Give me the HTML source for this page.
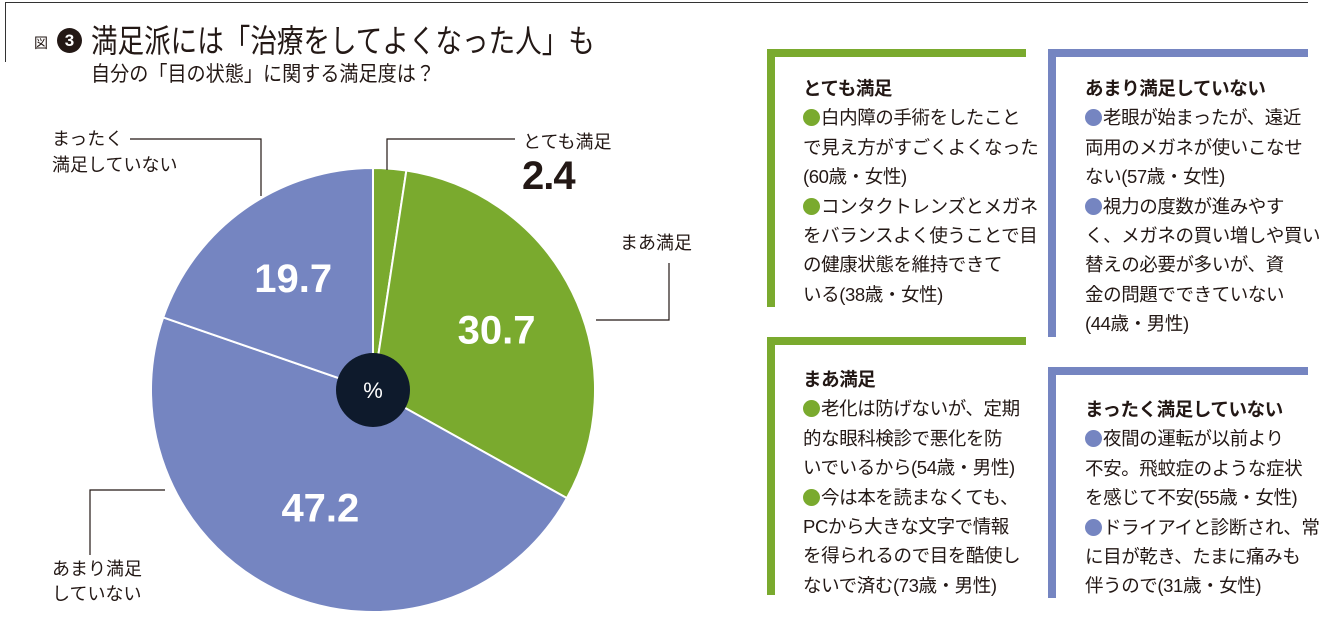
<!DOCTYPE html>
<html><head><meta charset="utf-8">
<style>
body{margin:0;width:1340px;height:628px;background:#fff;position:relative;overflow:hidden;font-family:"Liberation Sans","Noto Sans CJK JP",sans-serif;color:#231815}
.abs{position:absolute}
.box{position:absolute;font-size:18.5px;line-height:29.4px;color:#231815;white-space:nowrap;letter-spacing:-0.4px}
.box b{font-weight:bold}
.dg,.db{display:inline-block;width:17px;height:17px;border-radius:50%;vertical-align:-2px;margin-right:1px}
.dg{background:#7aaa2e}.db{background:#7585c1}
</style></head><body>
<div class="abs" style="left:5px;top:2px;width:1303px;height:1px;background:#333"></div>
<div class="abs" style="left:5px;top:2px;width:1px;height:60px;background:#333"></div>
<div class="abs" style="left:34px;top:33px;font-size:14px">図</div>
<div class="abs" style="left:57px;top:28px;width:25px;height:25px;border-radius:50%;background:#231815;color:#fff;font-weight:bold;font-size:17px;text-align:center;line-height:25px">3</div>
<div class="abs" style="left:91px;top:21px;font-size:32px;line-height:40px;transform:scaleX(0.83);transform-origin:left top;white-space:nowrap">満足派には「治療をしてよくなった人」も</div>
<div class="abs" style="left:91px;top:61px;font-size:21px;line-height:28px;transform:scaleX(0.91);transform-origin:left top;white-space:nowrap">自分の「目の状態」に関する満足度は？</div>

<svg class="abs" style="left:0;top:0" width="760" height="628">
<g id="slices"></g>
<circle cx="373" cy="390" r="37" fill="#0e1a2c"/>
<text x="373" y="398" fill="#fff" font-size="22" text-anchor="middle" font-family="Liberation Sans, sans-serif">%</text>
<g fill="none" stroke="#231815" stroke-width="1.2">
<polyline points="130,139 261,139 261,196"/>
<polyline points="515,139 387,139 387,170"/>
<polyline points="669,263 669,320 596,320"/>
<polyline points="90,555 90,490 165,490"/>
</g>
<g id="values" font-family="Liberation Sans, sans-serif" font-weight="bold" font-size="40" fill="#fff" text-anchor="middle"></g>
</svg>
<div class="abs" style="left:52px;top:126px;font-size:18px;line-height:26px">まったく<br>満足していない</div>
<div class="abs" style="left:523px;top:129px;font-size:18px;line-height:26px">とても満足</div>
<div class="abs" style="left:522px;top:154px;font-size:40px;font-weight:bold;line-height:44px;letter-spacing:-1px">2.4</div>
<div class="abs" style="left:620px;top:230px;font-size:18px;line-height:26px">まあ満足</div>
<div class="abs" style="left:52px;top:557px;font-size:18px;line-height:25px">あまり満足<br>していない</div>

<div class="abs" style="left:767px;top:49px;width:259px;height:8px;background:#7aaa2e"></div>
<div class="abs" style="left:767px;top:49px;width:8px;height:258px;background:#7aaa2e"></div>
<div class="box" style="left:803px;top:74px"><b>とても満足</b><br><span class="dg"></span>白内障の手術をしたこと<br>で見え方がすごくよくなった<br>(60歳・女性)<br><span class="dg"></span>コンタクトレンズとメガネ<br>をバランスよく使うことで目<br>の健康状態を維持できて<br>いる(38歳・女性)</div>

<div class="abs" style="left:1048px;top:49px;width:260px;height:8px;background:#7585c1"></div>
<div class="abs" style="left:1048px;top:49px;width:8px;height:288px;background:#7585c1"></div>
<div class="box" style="left:1085px;top:74px"><b>あまり満足していない</b><br><span class="db"></span>老眼が始まったが、遠近<br>両用のメガネが使いこなせ<br>ない(57歳・女性)<br><span class="db"></span>視力の度数が進みやす<br>く、メガネの買い増しや買い<br>替えの必要が多いが、資<br>金の問題でできていない<br>(44歳・男性)</div>

<div class="abs" style="left:767px;top:337px;width:259px;height:8px;background:#7aaa2e"></div>
<div class="abs" style="left:767px;top:337px;width:8px;height:258px;background:#7aaa2e"></div>
<div class="box" style="left:803px;top:365px"><b>まあ満足</b><br><span class="dg"></span>老化は防げないが、定期<br>的な眼科検診で悪化を防<br>いでいるから(54歳・男性)<br><span class="dg"></span>今は本を読まなくても、<br>PCから大きな文字で情報<br>を得られるので目を酷使し<br>ないで済む(73歳・男性)</div>

<div class="abs" style="left:1048px;top:367px;width:260px;height:8px;background:#7585c1"></div>
<div class="abs" style="left:1048px;top:367px;width:8px;height:231px;background:#7585c1"></div>
<div class="box" style="left:1085px;top:395px"><b>まったく満足していない</b><br><span class="db"></span>夜間の運転が以前より<br>不安。飛蚊症のような症状<br>を感じて不安(55歳・女性)<br><span class="db"></span>ドライアイと診断され、常<br>に目が乾き、たまに痛みも<br>伴うので(31歳・女性)</div>

<script>
const categories = ["とても満足","まあ満足","あまり満足していない","まったく満足していない"];
const values = [2.4, 30.7, 47.2, 19.7];
const colors = ["#7aaa2e","#7aaa2e","#7585c1","#7585c1"];
const showValue = [false, true, true, true];
const cx=373, cy=390, R=222;
const NS="http://www.w3.org/2000/svg";
const total = values.reduce((a,b)=>a+b,0);
const angle = v => v/total*Math.PI*2;
const pt = (a,r) => [cx + r*Math.sin(a), cy - r*Math.cos(a)];
let a0=0;
const gS=document.getElementById('slices'), gV=document.getElementById('values');
values.forEach((v,i)=>{
  const a1=a0+angle(v);
  const p0=pt(a0,R), p1=pt(a1,R);
  const large=(a1-a0)>Math.PI?1:0;
  const path=document.createElementNS(NS,'path');
  path.setAttribute('d',`M${cx},${cy} L${p0[0]},${p0[1]} A${R},${R} 0 ${large} 1 ${p1[0]},${p1[1]} Z`);
  path.setAttribute('fill',colors[i]);
  path.setAttribute('stroke','#fff');
  path.setAttribute('stroke-width','2');
  
  
  gS.appendChild(path);
  if(showValue[i]){
    const m=(a0+a1)/2, r = i===2?0.58*R:0.62*R;
    const p=pt(m,r);
    const t=document.createElementNS(NS,'text');
    t.setAttribute('x',p[0]); t.setAttribute('y',p[1]+14);
    t.textContent=v.toFixed(1);
    
    
    gV.appendChild(t);
  }
  a0=a1;
});
</script>
</body></html>
